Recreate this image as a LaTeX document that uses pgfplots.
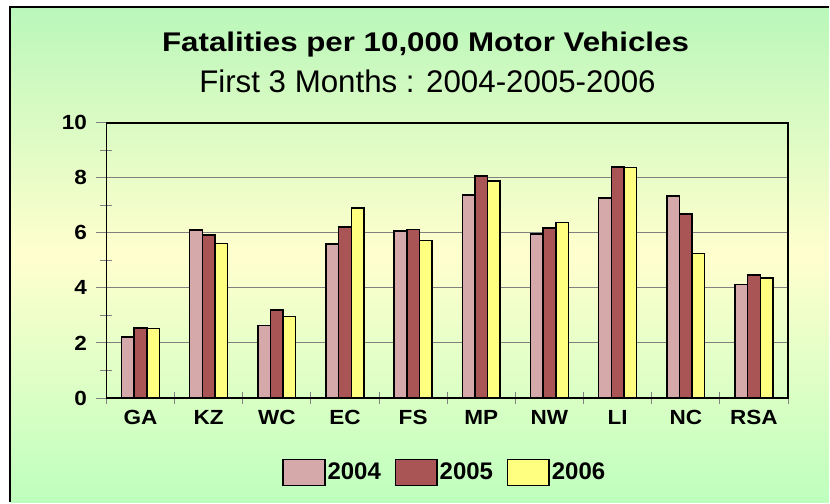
\documentclass[border=0pt]{standalone}
\usepackage{pgfplots}
\pgfplotsset{compat=1.18}
\usepackage{pgfplotstable}
\usepackage{fontspec}
\setmainfont{Liberation Sans}
\newfontfamily\wide{Liberation Sans}[FakeStretch=1.1]
\newfontfamily\titlewide{Liberation Sans}[FakeStretch=1.16]
\definecolor{cA}{RGB}{213,169,169}
\definecolor{cB}{RGB}{170,85,85}
\definecolor{cC}{RGB}{255,255,128}
\definecolor{bgtop}{RGB}{186,247,186}
\definecolor{bgmid}{RGB}{255,255,206}
\definecolor{bgbot}{RGB}{190,255,190}
\definecolor{gridgray}{RGB}{128,128,128}

\pgfplotstableread{
x v2004 v2005 v2006
0 2.21 2.55 2.53
1 6.11 5.93 5.62
2 2.64 3.19 2.96
3 5.59 6.22 6.90
4 6.07 6.13 5.73
5 7.38 8.07 7.89
6 5.96 6.18 6.38
7 7.26 8.40 8.38
8 7.35 6.69 5.26
9 4.13 4.47 4.36
}\data

\begin{document}
\begin{tikzpicture}[x=1bp,y=1bp]
\fill[white] (0,0) rectangle (830,503);
\shade[top color=bgtop, bottom color=bgbot, middle color=bgmid] (10,0) rectangle (830,496);
\draw[black, line width=2bp] (10,0) -- (10,496) -- (830,496);
\node[anchor=base, inner sep=0pt, font=\titlewide\bfseries\fontsize{27bp}{32bp}\selectfont] at (426,451) {Fatalities per 10,000 Motor Vehicles};
\node[anchor=base, inner sep=0pt, font=\fontsize{31.3bp}{36bp}\selectfont] at (428,410.5) {First 3 Months : 2004-2005-2006};
\begin{axis}[
  at={(106.5bp,104.5bp)}, anchor=south west,
  scale only axis, width=682.5bp, height=275.5bp,
  xmin=-0.5, xmax=9.5, ymin=0, ymax=10,
  enlargelimits=false,
  ybar=0pt, bar width=0.185,
  xtick={0,...,9}, xticklabels={GA,KZ,WC,EC,FS,MP,NW,LI,NC,RSA},
  minor xtick={-0.5,0.5,...,9.5},
  ytick={0,2,...,10}, minor ytick={1,3,...,9},
  ymajorgrids, major grid style={gridgray, line width=1bp},
  tick pos=left,
  tick align=center, major tick length=20bp, minor tick length=12bp,
  tick style={gridgray, line width=1bp},
  major x tick style={draw=none},
  axis line style={black, line width=1.6bp},
  /pgf/number format/assume math mode=true,
  ticklabel style={font=\wide\bfseries\fontsize{20.5bp}{24bp}\selectfont},
  yticklabel style={xshift=-6bp},
  xticklabel style={yshift=1.5bp},
  legend columns=3,
  legend style={draw=none, fill=none, at={(rel axis cs:0.258,-0.27)}, anchor=west, inner sep=0pt,
    font=\bfseries\fontsize{24bp}{28bp}\selectfont,
    /tikz/every even column/.append style={column sep=11.7bp}},
  legend image code/.code={\draw[#1, draw=black, line width=1.5bp] (0bp,-13bp) rectangle (41.7bp,13bp);},
]
\addplot[fill=cA, draw=black, line width=1.5bp] table[x=x, y=v2004] {\data};
\addplot[fill=cB, draw=black, line width=1.5bp] table[x=x, y=v2005] {\data};
\addplot[fill=cC, draw=black, line width=1.5bp] table[x=x, y=v2006] {\data};
\legend{2004,2005,2006}
\end{axis}
\end{tikzpicture}
\end{document}
